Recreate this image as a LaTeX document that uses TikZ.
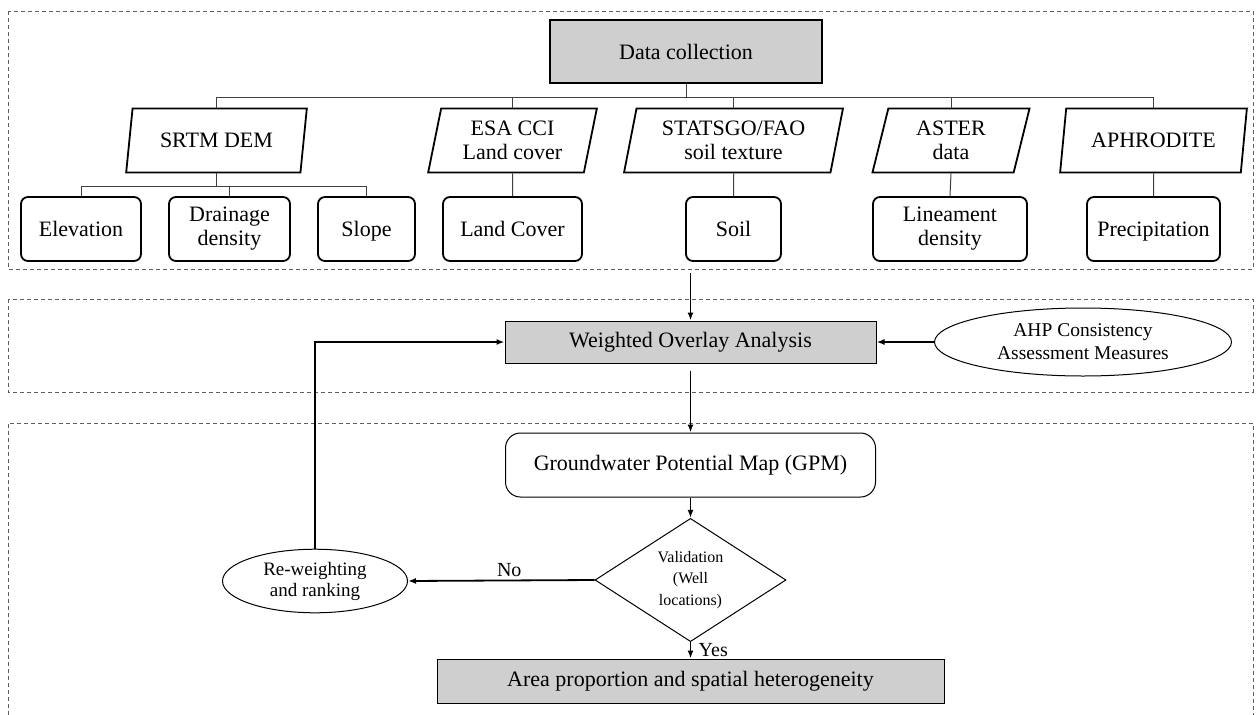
\documentclass[tikz,border=0pt]{standalone}
\usepackage{fontspec}
\setmainfont{Liberation Serif}
\usetikzlibrary{shapes.geometric,arrows.meta}

\definecolor{boxgray}{RGB}{208,207,207}
\definecolor{panelgray}{RGB}{95,95,95}

\tikzset{
  panel/.style={draw=panelgray, dash pattern=on 4pt off 3pt, line width=1pt},
  headbox/.style={draw, line width=2.2pt, fill=boxgray, minimum width=272pt, minimum height=63pt},
  source/.style={trapezium, trapezium left angle=78, trapezium right angle=102,
    trapezium stretches=true, draw, line width=1.8pt, minimum height=64pt, align=center},
  layer/.style={draw, rounded corners=7pt, line width=1.8pt, minimum height=64pt, align=center},
  single/.style={text height=15pt, text depth=0pt},
  stepbar/.style={draw, line width=1pt, fill=boxgray, minimum height=42pt},
  tree/.style={draw=black!75, line width=1pt},
  flow/.style={->, line width=1.8pt}
}

\begin{document}
\begin{tikzpicture}[x=1pt, y=-1pt, >={Latex[length=8pt,width=6pt]},
    font=\fontsize{22}{24}\selectfont]
    \useasboundingbox (0,0) rectangle (1256,715);

    % Dashed panels
    \draw[panel] (8,11) rectangle (1253,269);
    \draw[panel] (8,299) rectangle (1253,392);
    \draw[panel] (8,715) -- (8,423) -- (1253,423) -- (1253,715);

    % Data sources
    \node[headbox] (datacoll) at (686,51.5) {Data collection};

    \node[source, minimum width=181pt] (srtm) at (216.5,140.5) {SRTM DEM};
    \node[source, minimum width=169pt] (esa) at (512.5,140.5) {ESA CCI\\Land cover};
    \node[source, minimum width=219pt] (statsgo) at (733.5,140.5) {STATSGO/FAO\\soil texture};
    \node[source, minimum width=158pt] (aster) at (951,140.5) {ASTER\\data};
    \node[source, minimum width=187pt] (aphro) at (1153.5,140.5) {APHRODITE};

    % Thematic layers
    \node[layer, single, minimum width=120pt] (elev) at (81,229) {Elevation};
    \node[layer, minimum width=121pt] (drain) at (229.5,229) {Drainage\\density};
    \node[layer, single, minimum width=97pt] (slope) at (366.5,229) {Slope};
    \node[layer, single, minimum width=139pt] (landcover) at (512.5,229) {Land Cover};
    \node[layer, single, minimum width=95pt] (soil) at (733.5,229) {Soil};
    \node[layer, minimum width=154pt] (linea) at (950,229) {Lineament\\density};
    \node[layer, single, minimum width=133pt] (precip) at (1153.5,229) {Precipitation};

    % Tree lines
    \draw[tree] (datacoll.south) -- (datacoll.south |- 0,97);
    \draw[tree] (srtm.north) |- (aphro.north |- 0,97) -- (aphro.north);
    \foreach \src in {esa,statsgo,aster}
        \draw[tree] (\src.north) -- (\src.north |- 0,97);
    \draw[tree] (srtm.south) -- (srtm.south |- 0,186);
    \draw[tree] (elev.north) |- (slope.north |- 0,186) -- (slope.north);
    \draw[tree] (drain.north) -- (drain.north |- 0,186);
    \draw[tree] (esa.south) -- (landcover.north);
    \draw[tree] (statsgo.south) -- (soil.north);
    \draw[tree] (aster.south) -- (linea.north);
    \draw[tree] (aphro.south) -- (precip.north);

    % Overlay and validation
    \node[stepbar, minimum width=371pt] (woa) at (690.5,342) {Weighted Overlay Analysis};
    \node[ellipse, draw, line width=1pt, minimum width=297pt, minimum height=68pt,
        align=center, font=\fontsize{19.5}{23}\selectfont] (ahp) at (1083,342)
        {AHP Consistency\\Assessment Measures};
    \node[draw, rounded corners=15pt, line width=1pt, minimum width=370pt,
        minimum height=64pt] (gpm) at (690.5,465) {Groundwater Potential Map (GPM)};
    \node[diamond, draw, line width=1pt, inner sep=0pt, minimum width=191pt,
        minimum height=106pt, align=center, font=\fontsize{16}{21.5}\selectfont]
        (valid) at (690.5,580) {Validation\\(Well\\locations)};
    \node[ellipse, draw, line width=1pt, minimum width=185pt, minimum height=62pt,
        align=center, font=\fontsize{19}{21}\selectfont] (reweight) at (315,581)
        {Re-weighting\\and ranking};
    \node[stepbar, minimum width=507pt, minimum height=44pt] (area) at (690.5,681)
        {Area proportion and spatial heterogeneity};

    % Arrows
    \coordinate (inflow) at (690.5,273);
    \draw[flow] (inflow) -- (woa.north);
    \draw[flow] (ahp.west) -- (woa.east);
    \draw[flow] ([yshift=-7pt]woa.south) -- (gpm.north);
    \draw[flow] (gpm.south) -- (valid.north);
    \draw[flow] (valid.south) -- node[right, xshift=4pt, font=\fontsize{20}{22}\selectfont] {Yes} (area.north);
    \draw[flow] (valid.west) -- node[above, xshift=8pt, font=\fontsize{20}{22}\selectfont] {No} (reweight.east);
    \draw[flow] (reweight.north) |- (woa.west);
\end{tikzpicture}
\end{document}
